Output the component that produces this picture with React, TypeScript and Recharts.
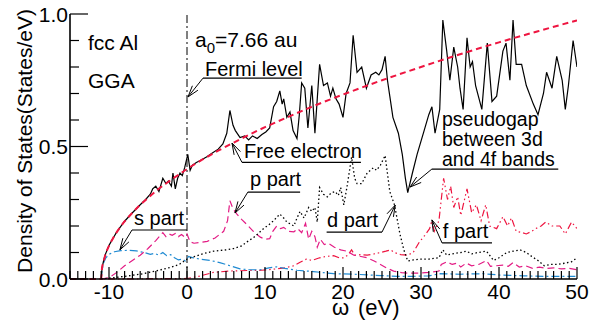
import {
  ComposedChart, Line, XAxis, YAxis, ReferenceLine, ReferenceDot,
} from 'recharts';

// [omega (eV), DOS (States/eV)]
const totalDos: [number, number][] = [
  [-11, 0], [-10.9, 0.04], [-10.7, 0.068], [-10.5, 0.09], [-10, 0.127], [-9.5, 0.153], [-9, 0.178],
  [-8, 0.218], [-7, 0.25], [-6, 0.28], [-5.3, 0.3], [-4.7, 0.32], [-4.4, 0.34], [-4, 0.35],
  [-3.6, 0.33], [-3.1, 0.38], [-2.7, 0.36], [-2.4, 0.37], [-2, 0.35], [-1.8, 0.4], [-1.5, 0.34],
  [-1.2, 0.38], [-0.9, 0.4], [-0.6, 0.39], [-0.3, 0.42], [0.1, 0.47], [0.4, 0.41], [0.7, 0.43],
  [1.2, 0.44], [1.7, 0.447], [2.5, 0.46], [3.2, 0.475], [4, 0.49], [4.6, 0.51], [5.1, 0.55],
  [5.5, 0.636], [5.9, 0.58], [6.2, 0.56], [6.8, 0.534], [7.4, 0.54], [7.9, 0.525], [8.4, 0.54],
  [9, 0.53], [9.6, 0.545], [10.1, 0.555], [10.6, 0.57], [11.1, 0.65], [11.5, 0.67], [11.9, 0.71],
  [12.2, 0.66], [12.4, 0.68], [12.8, 0.61], [13.2, 0.63], [13.6, 0.56], [14.1, 0.53], [14.4, 0.62],
  [14.7, 0.74], [15.1, 0.72], [15.5, 0.57], [16, 0.73], [16.4, 0.55], [17, 0.81], [17.5, 0.73],
  [18, 0.74], [18.4, 0.69], [18.7, 0.72], [19.1, 0.68], [19.5, 0.66], [20, 0.61], [20.4, 0.7],
  [20.9, 0.74], [21.3, 0.92], [21.8, 0.78], [22.4, 0.8], [23, 0.72], [23.6, 0.77], [24.2, 0.78],
  [24.6, 0.77], [25, 0.79], [25.4, 0.84], [25.7, 0.75], [26, 0.69], [26.4, 0.61], [27.1, 0.55],
  [27.6, 0.47], [28, 0.38], [28.3, 0.326], [28.9, 0.4], [29.5, 0.47], [30.4, 0.56], [31, 0.62],
  [31.4, 0.65], [31.8, 0.55], [32.4, 0.64], [32.8, 0.977], [33.3, 0.86], [33.7, 0.75], [34.2, 0.875],
  [34.7, 0.8], [35, 0.72], [35.4, 0.64], [35.9, 0.91], [36.3, 0.8], [36.6, 0.82], [37, 0.73],
  [37.8, 0.64], [38.5, 0.89], [39.1, 0.67], [39.7, 0.69], [40.5, 0.86], [40.9, 0.89], [41.4, 0.75],
  [41.8, 0.977], [42.2, 0.81], [42.9, 0.81], [43.5, 0.73], [44.4, 0.66], [45, 0.62], [45.7, 0.7],
  [46.1, 0.78], [46.8, 0.72], [47.4, 0.84], [48.1, 0.75], [48.5, 0.64], [48.9, 0.73], [49.5, 0.9],
  [50, 0.8],
];

const freeElectron: [number, number][] = [
  [-15, 0], [-11, 0], [-10.9, 0.04], [-10.7, 0.065], [-10.5, 0.088], [-10, 0.125], [-9.5, 0.153],
  [-9, 0.177], [-8, 0.217], [-7, 0.25], [-6, 0.28], [-5, 0.306], [-4, 0.331], [-3, 0.354],
  [-2, 0.375], [-1, 0.395], [0, 0.415], [2, 0.451], [4, 0.484], [6, 0.515], [8, 0.545],
  [10, 0.573], [13, 0.612], [16, 0.65], [20, 0.696], [25, 0.75], [30, 0.8], [35, 0.848],
  [40, 0.893], [45, 0.935], [50, 0.976],
];

const sPart: [number, number][] = [
  [-11, 0], [-10.9, 0.03], [-10.7, 0.06], [-10.4, 0.08], [-10, 0.093], [-9.3, 0.103], [-8.5, 0.107],
  [-7.5, 0.108], [-6.5, 0.106], [-5.5, 0.1], [-4.7, 0.093], [-4.2, 0.097], [-3.6, 0.09], [-3.1, 0.1],
  [-2.6, 0.088], [-2.1, 0.092], [-1.6, 0.08], [-1.1, 0.072], [-0.6, 0.075], [-0.2, 0.068], [0.2, 0.085],
  [0.8, 0.08], [1.7, 0.075], [3, 0.07], [4.2, 0.062], [5.5, 0.05], [6.8, 0.038], [8, 0.035],
  [9.4, 0.035], [10.5, 0.042], [11.5, 0.046], [12.5, 0.04], [14.1, 0.033], [16.2, 0.028], [18.8, 0.02],
  [21.4, 0.018], [24.8, 0.013], [27, 0.01], [29, 0.01], [31, 0.012], [32.5, 0.02], [35, 0.018],
  [38, 0.02], [40, 0.015], [43, 0.012], [46, 0.01], [50, 0.01],
];

const pPart: [number, number][] = [
  [-11, 0], [-10, 0.005], [-9, 0.025], [-8, 0.05], [-7, 0.07], [-6, 0.09], [-5, 0.115], [-4, 0.145],
  [-3.1, 0.175], [-2.7, 0.16], [-2.3, 0.17], [-1.9, 0.165], [-1.5, 0.172], [-1.1, 0.16], [-0.7, 0.168],
  [-0.3, 0.158], [0, 0.17], [0.4, 0.14], [0.9, 0.135], [1.8, 0.138], [2.6, 0.142], [3.6, 0.155],
  [4.7, 0.18], [5.2, 0.22], [5.5, 0.295], [5.9, 0.265], [6.4, 0.245], [7, 0.225], [7.7, 0.205],
  [8.5, 0.18], [9.4, 0.158], [10, 0.15], [10.6, 0.152], [11, 0.18], [11.5, 0.2], [12, 0.19],
  [12.4, 0.195], [13, 0.18], [13.7, 0.178], [14.2, 0.19], [14.7, 0.175], [15.2, 0.21], [15.6, 0.15],
  [16, 0.18], [16.4, 0.16], [16.7, 0.12], [17.1, 0.15], [17.6, 0.13], [18.1, 0.135], [18.9, 0.12],
  [19.7, 0.11], [20.5, 0.105], [21.4, 0.09], [22.3, 0.085], [23.1, 0.08], [24, 0.068], [24.8, 0.055],
  [25.7, 0.04], [26.5, 0.03], [27.5, 0.024], [28.5, 0.022], [29.8, 0.022], [31, 0.025], [32.3, 0.03],
  [32.6, 0.055], [33.3, 0.065], [34, 0.055], [34.6, 0.06], [35.1, 0.045], [35.8, 0.06], [36.5, 0.05],
  [37.4, 0.055], [38.4, 0.07], [38.9, 0.048], [39.6, 0.05], [40.5, 0.052], [41.2, 0.048], [41.8, 0.062],
  [42.6, 0.045], [43.4, 0.05], [44.3, 0.04], [45.2, 0.045], [46.1, 0.04], [47, 0.042], [48, 0.038],
  [49, 0.04], [50, 0.035],
];

const dPart: [number, number][] = [
  [-11, 0], [-10, 0.003], [-8, 0.01], [-6, 0.018], [-4, 0.03], [-2, 0.045], [-1, 0.055], [0, 0.075],
  [1, 0.085], [2, 0.095], [3.4, 0.105], [5, 0.11], [6, 0.115], [7, 0.125], [7.7, 0.14], [8.7, 0.16],
  [9.8, 0.19], [10.5, 0.205], [11.1, 0.22], [11.9, 0.245], [12.4, 0.23], [12.8, 0.215], [13.7, 0.2],
  [14.1, 0.23], [14.5, 0.255], [15, 0.23], [15.6, 0.27], [16, 0.255], [16.4, 0.27], [16.7, 0.215],
  [17, 0.345], [17.5, 0.32], [18, 0.31], [18.5, 0.325], [19, 0.33], [19.4, 0.315], [19.7, 0.345],
  [20.1, 0.28], [20.5, 0.345], [21.1, 0.46], [21.5, 0.38], [21.8, 0.36], [22.4, 0.36], [23.1, 0.4],
  [23.9, 0.42], [24.3, 0.41], [24.8, 0.43], [25.4, 0.466], [26, 0.33], [26.6, 0.28], [27.3, 0.17],
  [27.8, 0.11], [28.3, 0.068], [29, 0.072], [29.8, 0.075], [31, 0.075], [32.3, 0.08], [32.8, 0.11],
  [33.3, 0.09], [34, 0.095], [35.1, 0.1], [35.8, 0.105], [36.5, 0.095], [37.3, 0.1], [38.4, 0.105],
  [39.3, 0.07], [40, 0.08], [41, 0.1], [41.8, 0.105], [42.7, 0.11], [43.5, 0.1], [44.2, 0.085],
  [45, 0.07], [45.8, 0.05], [46.6, 0.055], [47.5, 0.055], [48.5, 0.06], [49.3, 0.065], [50, 0.08],
];

const fPart: [number, number][] = [
  [-15, 0], [-11, 0], [0, 0.002], [1.5, 0.01], [3.4, 0.025], [5.5, 0.03], [7.7, 0.032], [9.5, 0.033],
  [11.1, 0.037], [12.5, 0.042], [13.7, 0.05], [14.5, 0.063], [15.3, 0.075], [16, 0.07], [17, 0.08],
  [17.8, 0.085], [18.8, 0.088], [19.5, 0.08], [20.1, 0.08], [20.6, 0.09], [21.1, 0.11], [21.5, 0.09],
  [22.3, 0.092], [23.1, 0.09], [24, 0.095], [24.8, 0.1], [25.5, 0.105], [26.1, 0.11], [26.6, 0.1],
  [27.4, 0.092], [28.3, 0.09], [29, 0.1], [29.8, 0.14], [30.5, 0.165], [31.1, 0.19], [31.4, 0.22],
  [31.7, 0.18], [32.3, 0.22], [32.9, 0.38], [33.4, 0.3], [33.8, 0.35], [34.2, 0.27], [34.7, 0.31],
  [35.1, 0.24], [35.9, 0.34], [36.5, 0.25], [37.1, 0.28], [37.7, 0.22], [38.3, 0.28], [38.8, 0.2],
  [39.7, 0.19], [40.5, 0.235], [41.1, 0.2], [41.6, 0.23], [42.2, 0.18], [43, 0.175], [43.5, 0.17],
  [44.2, 0.18], [44.7, 0.19], [45.4, 0.2], [46, 0.215], [46.8, 0.2], [47.8, 0.2], [48.5, 0.17],
  [49.3, 0.215], [50, 0.19],
];

const xTicks = Array.from({ length: 66 }, (_, i) => i - 15);
const yTicks = [0, 0.1, 0.2, 0.3, 0.4, 0.5, 0.6, 0.7, 0.8, 0.9, 1.0];
const yMajor = [0, 0.5, 1.0];

// text notes: [omega, dos, text, font size] (left edge, baseline)
const notes: [number, number, string, number][] = [
  [-12.69, 0.864, 'fcc Al', 21],
  [-12.69, 0.721, 'GGA', 21],
  [2.31, 0.766, 'Fermi level', 20],
  [7.3, 0.457, 'Free electron', 20],
  [32.69, 0.577, 'pseudogap', 19.5],
  [32.69, 0.502, 'between 3d', 19.5],
  [32.69, 0.428, 'and 4f bands', 19.5],
  [8.08, 0.352, 'p part', 20],
  [17.95, 0.196, 'd part', 20],
  [-6.8, 0.204, 's part', 20],
  [32.8, 0.155, 'f part', 20],
];

// underlines [w1, w2, dos] and arrows [from w, from dos, tip w, tip dos]
const underlines: [number, number, number][] = [
  [2.05, 14.7, 0.758], [7.05, 22.3, 0.44], [31.4, 47.6, 0.415], [7.8, 14.5, 0.328],
  [17.9, 25.0, 0.177], [-7.05, 0, 0.185], [32.7, 39.1, 0.136],
];
const arrows: [number, number, number, number][] = [
  [2.05, 0.758, 0.13, 0.687], [7.05, 0.44, 5.77, 0.513], [31.4, 0.415, 28.6, 0.347],
  [7.8, 0.328, 6.15, 0.249], [25.0, 0.177, 26.7, 0.279], [-7.05, 0.185, -8.6, 0.11],
  [32.7, 0.136, 31.4, 0.223],
];

const toRows = (d: [number, number][]) => d.map(([w, v]) => ({ w, v }));

const FONT = '"Liberation Sans", Arial, Helvetica, sans-serif';

const BottomTick = ({ x, y, payload }: any) => {
  const major = payload.value % 10 === 0;
  return (
    <g>
      <line x1={x} y1={y} x2={x} y2={y - (major ? 12 : 8)} stroke="#000" strokeWidth={1.2} />
      {major && (
        <text x={x} y={y + 20} textAnchor="middle" fontSize={21} fontFamily={FONT} fill="#000">
          {payload.value}
        </text>
      )}
    </g>
  );
};

const TopTick = ({ x, y, payload }: any) => {
  const major = payload.value % 10 === 0;
  return <line x1={x} y1={y} x2={x} y2={y + (major ? 12 : 8)} stroke="#000" strokeWidth={1.2} />;
};

const LeftTick = ({ x, y, payload }: any) => {
  const major = yMajor.includes(payload.value);
  return (
    <g>
      <line x1={x} y1={y} x2={x + (major ? 18 : 9)} y2={y} stroke="#000" strokeWidth={1.2} />
      {major && (
        <text x={x - 2} y={y + 7.5} textAnchor="end" fontSize={21} fontFamily={FONT} fill="#000">
          {payload.value.toFixed(1)}
        </text>
      )}
    </g>
  );
};

const RightTick = ({ x, y, payload }: any) => {
  const major = yMajor.includes(payload.value);
  return <line x1={x} y1={y} x2={x - (major ? 18 : 9)} y2={y} stroke="#000" strokeWidth={1.2} />;
};

const ArrowShape = (p: any) => {
  const { x1, y1, x2, y2 } = p;
  const ang = Math.atan2(y2 - y1, x2 - x1);
  const len = 12;
  const a1 = ang + Math.PI - 0.3;
  const a2 = ang + Math.PI + 0.3;
  return (
    <g stroke="#000" strokeWidth={1} fill="none">
      <line x1={x1} y1={y1} x2={x2} y2={y2} />
      <polyline
        points={`${x2 + len * Math.cos(a1)},${y2 + len * Math.sin(a1)} ${x2},${y2} ${x2 + len * Math.cos(a2)},${y2 + len * Math.sin(a2)}`}
      />
    </g>
  );
};

export default function App() {
  return (
    <div style={{ position: 'absolute', left: 0, top: 0 }}>
      <ComposedChart width={592} height={321} margin={{ top: 14, right: 15, bottom: 0, left: 0 }}>
        <XAxis
          type="number" dataKey="w" domain={[-15, 50]} ticks={xTicks} interval={0}
          allowDataOverflow height={42} tickSize={0} tickMargin={0} tick={<BottomTick />}
          axisLine={{ stroke: '#000', strokeWidth: 1.6 }} tickLine={false}
          label={{
            content: () => (
              <g fontFamily={FONT} fontSize={22} fill="#000">
                <text x={332} y={315}>ω</text>
                <text x={358} y={315}>(eV)</text>
              </g>
            ),
          }}
        />
        <XAxis
          xAxisId="top" orientation="top" type="number" dataKey="w" domain={[-15, 50]} ticks={xTicks}
          interval={0} height={0} tickSize={0} tickMargin={0} tick={<TopTick />}
          axisLine={{ stroke: '#000', strokeWidth: 1.6 }} tickLine={false}
        />
        <YAxis
          type="number" domain={[0, 1]} ticks={yTicks} interval={0} width={70} tickSize={0}
          tickMargin={0} tick={<LeftTick />} axisLine={{ stroke: '#000', strokeWidth: 1.6 }} tickLine={false}
          label={{
            content: () => (
              <text
                transform="translate(32, 141) rotate(-90)" textAnchor="middle"
                fontFamily={FONT} fontSize={21} fill="#000"
              >
                Density of States(States/eV)
              </text>
            ),
          }}
        />
        <YAxis
          yAxisId="right" orientation="right" type="number" domain={[0, 1]} ticks={yTicks} interval={0}
          width={0} tickSize={0} tickMargin={0} tick={<RightTick />}
          axisLine={{ stroke: '#000', strokeWidth: 1.6 }} tickLine={false}
        />

        <ReferenceLine x={0} stroke="#000" strokeWidth={1} strokeDasharray="8 3 2 3" />

        <Line data={toRows(fPart)} dataKey="v" type="linear" stroke="#ee1540" strokeWidth={1.2}
          strokeDasharray="7 3 1.5 3 1.5 3" dot={false} isAnimationActive={false} />
        <Line data={toRows(sPart)} dataKey="v" type="linear" stroke="#1f8ad2" strokeWidth={1.2}
          strokeDasharray="8 3 2 3" dot={false} isAnimationActive={false} />
        <Line data={toRows(pPart)} dataKey="v" type="linear" stroke="#e31b84" strokeWidth={1.2}
          strokeDasharray="7 4" dot={false} isAnimationActive={false} />
        <Line data={toRows(dPart)} dataKey="v" type="linear" stroke="#000" strokeWidth={1.3}
          strokeDasharray="1.5 2.5" dot={false} isAnimationActive={false} />
        <Line data={toRows(totalDos)} dataKey="v" type="linear" stroke="#000" strokeWidth={1.2}
          dot={false} isAnimationActive={false} />
        <Line data={toRows(freeElectron)} dataKey="v" type="monotone" stroke="#ee1540" strokeWidth={2}
          strokeDasharray="6 4" dot={false} isAnimationActive={false} />

        {underlines.map(([a, b, v], i) => (
          <ReferenceLine key={`u${i}`} segment={[{ x: a, y: v }, { x: b, y: v }]} stroke="#000"
            strokeWidth={1.2} ifOverflow="visible" />
        ))}
        {arrows.map(([a, va, b, vb], i) => (
          <ReferenceLine key={`a${i}`} segment={[{ x: a, y: va }, { x: b, y: vb }]} stroke="#000"
            ifOverflow="visible" shape={ArrowShape} />
        ))}
        {notes.map(([w, v, t, fs], i) => (
          <ReferenceDot key={`n${i}`} x={w} y={v} r={0} ifOverflow="visible"
            shape={(p: any) => (
              <text x={p.cx} y={p.cy} fontFamily={FONT} fontSize={fs} fill="#000">{t}</text>
            )}
          />
        ))}
        <ReferenceDot x={1.03} y={0.875} r={0} ifOverflow="visible"
          shape={(p: any) => (
            <text x={p.cx} y={p.cy} fontFamily={FONT} fontSize={21} fill="#000">
              a<tspan dy={6} fontSize={15}>0</tspan><tspan dy={-6}>=7.66 au</tspan>
            </text>
          )}
        />
      </ComposedChart>
    </div>
  );
}
